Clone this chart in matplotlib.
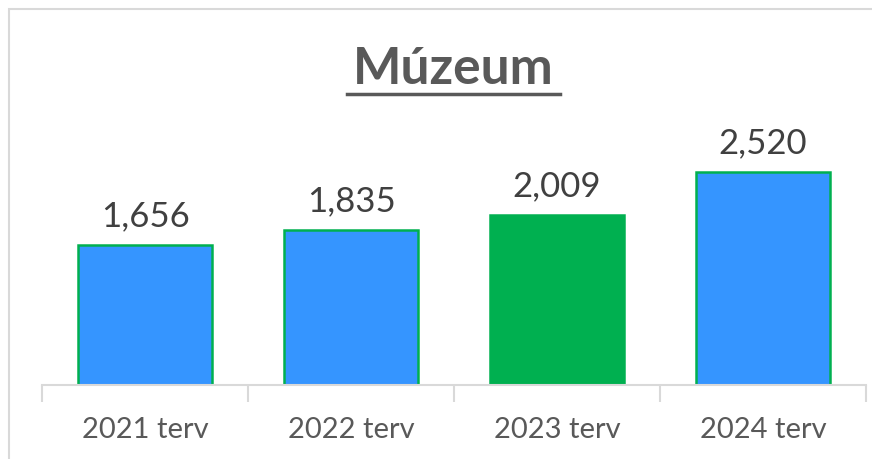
import matplotlib.pyplot as plt
from matplotlib.patches import Rectangle
from matplotlib.lines import Line2D

plt.rcParams['font.family'] = ['Lato', 'DejaVu Sans']

categorias = ["2021 terv", "2022 terv", "2023 terv", "2024 terv"]
valores = [1656, 1835, 2009, 2520]
colores = ["#3595FF", "#3595FF", "#00B050", "#3595FF"]
titulo = "Múzeum"

W, H = 872, 460
fig = plt.figure(figsize=(W / 100, H / 100), dpi=100)

# axes placed in pixel terms: x 42..866, baseline at y=385
ax = fig.add_axes([42 / W, (H - 386) / H, (866 - 42) / W, 286 / H])
x = list(range(len(categorias)))
ax.bar(x, valores, width=0.655, color=colores, edgecolor="#00B050", linewidth=1.8, zorder=2)
ax.set_xlim(-0.5, len(categorias) - 0.5)
ax.set_ylim(0, 286 / 0.0845)

for xi, v in zip(x, valores):
    ax.annotate(f"{v:,}", (xi, v), xytext=(0, 10), textcoords="offset points",
                ha="center", va="bottom", fontsize=25, color="#404040")

for s in ["top", "left", "right"]:
    ax.spines[s].set_visible(False)
ax.spines["bottom"].set_color("#D9D9D9")
ax.spines["bottom"].set_linewidth(1.5)
ax.set_yticks([])
ax.set_xticks([i - 0.5 for i in range(len(categorias) + 1)], minor=False)
ax.set_xticklabels([])
ax.tick_params(axis="x", length=12, width=1.5, color="#D9D9D9")
ax.set_xticks(x, minor=True)
ax.set_xticklabels(categorias, minor=True)
ax.tick_params(axis="x", which="minor", length=0, pad=22, labelsize=21, labelcolor="#595959")

# title with underline
fig.text(453 / W, 1 - 69 / H, titulo, ha="center", va="center",
         fontsize=37, fontweight="bold", color="#595959")
fig.add_artist(Line2D([347 / W, 560 / W], [1 - 95 / H, 1 - 95 / H],
                      color="#595959", linewidth=2.5))

# chart border
fig.add_artist(Rectangle((9 / W, -0.1), 1.2, 1 - 10 / H + 0.1, fill=False,
                         edgecolor="#D9D9D9", linewidth=1.5, transform=fig.transFigure))

fig.savefig("out.png", dpi=100, facecolor="white")
